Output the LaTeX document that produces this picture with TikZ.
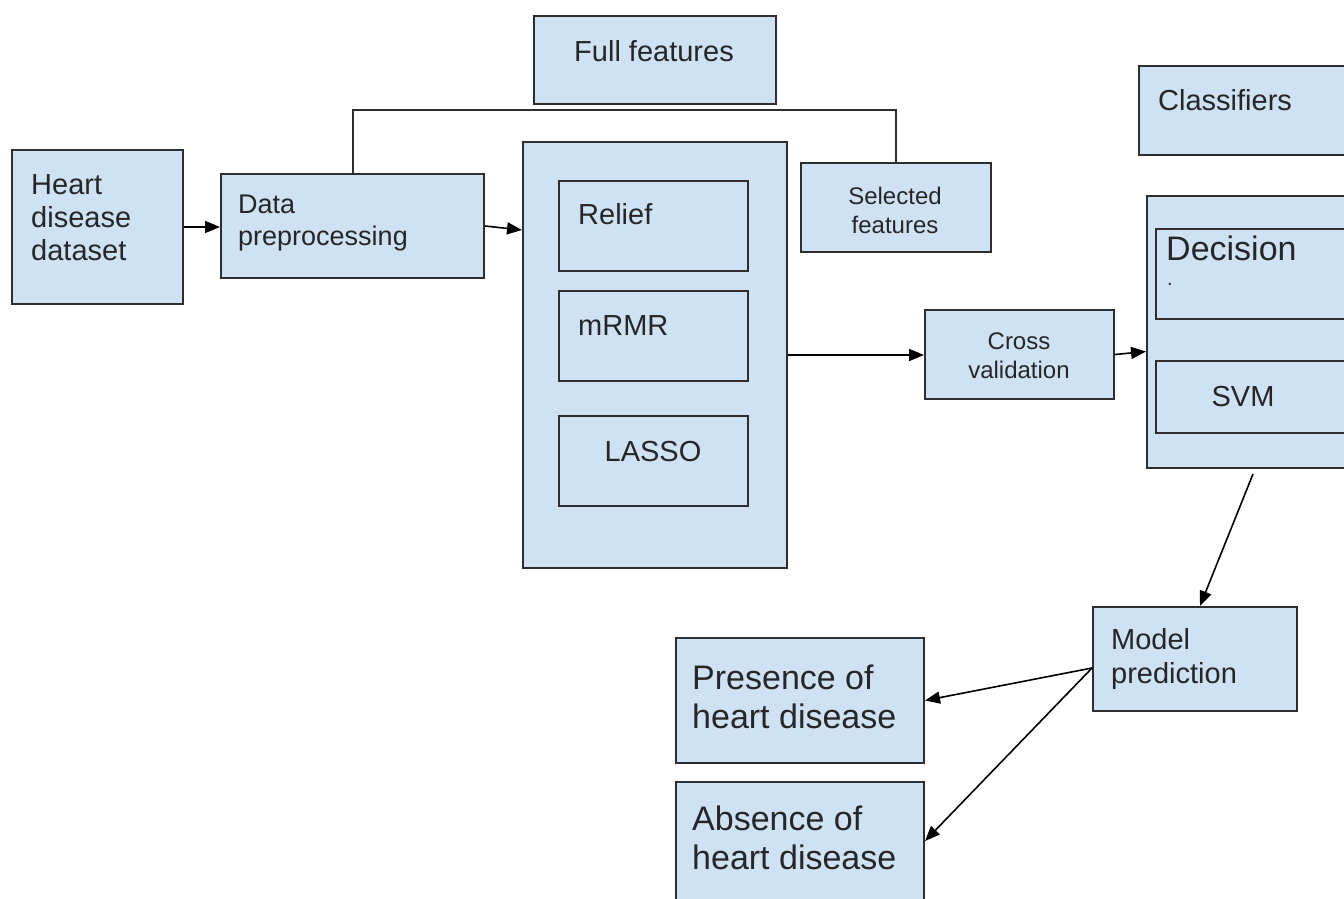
\documentclass[tikz,border=0pt]{standalone}
\usepackage{fontspec}
\setmainfont{Liberation Sans}
\usetikzlibrary{arrows.meta,calc}
\definecolor{boxfill}{HTML}{CFE2F3}
\definecolor{boxline}{HTML}{2E2E2E}
\definecolor{ink}{HTML}{262626}
\begin{document}
\begin{tikzpicture}[x=1pt,y=-1pt,
  box/.style={draw=boxline,fill=boxfill,line width=2pt,anchor=north west,inner sep=0pt},
  txt/.style={text=ink,inner sep=0pt,font=\fontsize{29}{33}\selectfont},
  small/.style={txt,font=\fontsize{24}{29}\selectfont},
  big/.style={txt,font=\fontsize{34}{39}\selectfont},
  arr/.style={draw=black,line width=1.6pt,-{Triangle[length=15pt,width=12pt]}},
  bracket/.style={draw=boxline,line width=2pt}
]
\clip (0,0) rectangle (1344,899);
\fill[white] (0,0) rectangle (1344,899);

% boxes
\node[box,minimum width=242pt,minimum height=88pt]  (full)   at (533,15)  {};
\node[box,minimum width=171pt,minimum height=154pt] (data)   at (11,149)  {};
\node[box,minimum width=263pt,minimum height=104pt] (prep)   at (220,173) {};
\node[box,minimum width=264pt,minimum height=426pt] (fsel)   at (522,141) {};
\node[box,minimum width=189pt,minimum height=90pt]  (relief) at (558,180) {};
\node[box,minimum width=189pt,minimum height=90pt]  (mrmr)   at (558,290) {};
\node[box,minimum width=189pt,minimum height=90pt]  (lasso)  at (558,415) {};
\node[box,minimum width=190pt,minimum height=89pt]  (sel)    at (800,162) {};
\node[box,minimum width=220pt,minimum height=89pt]  (clsl)   at (1138,65) {};
\node[box,minimum width=220pt,minimum height=272pt] (cls)    at (1146,195) {};
\node[box,minimum width=200pt,minimum height=90pt]  (dec)    at (1155,228) {};
\node[box,minimum width=200pt,minimum height=72pt]  (svm)    at (1155,360) {};
\node[box,minimum width=189pt,minimum height=89pt]  (cross)  at (924,309) {};
\node[box,minimum width=204pt,minimum height=104pt] (model)  at (1092,606) {};
\node[box,minimum width=248pt,minimum height=125pt] (pres)   at (675,637) {};
\node[box,minimum width=248pt,minimum height=130pt] (abs)    at (675,781) {};

% labels
\node[txt] (fullT) at (654,51) {Full features};
\node[txt,anchor=west,align=left] (dataT) at (31,218) {Heart\\disease\\dataset};
\node[txt,anchor=west,align=left,font=\fontsize{27}{32}\selectfont] (prepT) at (238,223) {Data\\preprocessing};
\node[txt,anchor=west] (reliefT) at (578,214) {Relief};
\node[txt,anchor=west] (mrmrT) at (578,326) {mRMR};
\node[txt] (lassoT) at (653,452) {LASSO};
\node[small,align=center] (selT) at (895,210) {Selected\\features};
\node[txt,anchor=west] (clslT) at (1158,100) {Classifiers};
\node[big,anchor=west] (decT) at (1166,248) {Decision};
\node[txt,font=\fontsize{20}{20}\selectfont,anchor=base] (decDot) at (1170,285) {.};
\node[txt] (svmT) at (1243,397) {SVM};
\node[small,align=center] (crossT) at (1019,356) {Cross\\validation};
\node[txt,anchor=west,align=left,font=\fontsize{29}{34}\selectfont] (modelT) at (1111,659) {Model\\prediction};
\node[big,anchor=west,align=left] (presT) at (692,697) {Presence of\\heart disease};
\node[big,anchor=west,align=left] (absT) at (692,838) {Absence of\\heart disease};

% full / selected feature bracket
\coordinate (bar) at (0,110);
\draw[bracket] (prep.north) -- (prep.north |- bar) -| (sel.north);

% flow arrows
\draw[arr] (data.east) -- (data.east -| prep.west);
\draw[arr] (prep.east) -- ([yshift=-4pt]prep.east -| fsel.west);
\draw[arr] (fsel.east) -- (fsel.east -| cross.west);
\draw[arr] (cross.east) -- ([yshift=3pt]cross.east -| cls.west);
\draw[arr] ($(cls.south west)+(107,5)$) -- ($(model.north west)+(108,0)$);
\coordinate (mp) at ($(model.west)+(0,9)$);
\draw[arr] (mp) -- (pres.east);
\draw[arr] (mp) -- ($(abs.north east)+(0,60)$);
\end{tikzpicture}
\end{document}
